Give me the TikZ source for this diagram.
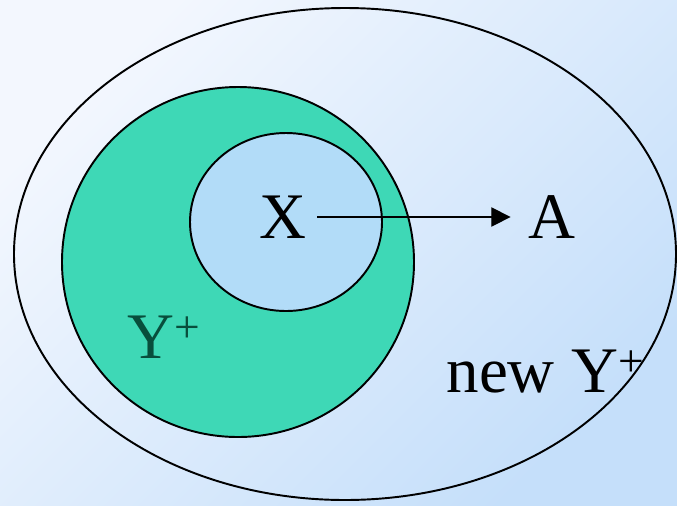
\documentclass[tikz,border=0pt]{standalone}
\usepackage{fontspec}
\setmainfont{Liberation Serif}
\usetikzlibrary{arrows.meta}
\definecolor{bgtop}{RGB}{243,247,254}
\definecolor{bgbottom}{RGB}{197,223,250}
\definecolor{tealfill}{RGB}{62,216,182}
\definecolor{bluefill}{RGB}{178,220,248}
\definecolor{tealtext}{RGB}{8,78,60}

\begin{document}
\begin{tikzpicture}[x=0.02cm,y=-0.02cm,
    lbl/.style={font=\fontsize{37}{40}\selectfont, inner sep=3pt},
    setline/.style={line width=1.1pt}]
        % Background
        \useasboundingbox (0,0) rectangle (677,505);
        \shade[top color=bgtop, bottom color=bgbottom, shading angle=45] (0,0) rectangle (677,505);
        % Define centres
        \coordinate (O) at (345,254);
        \coordinate (C) at (238,262);
        \coordinate (E) at (286,222);
        % new Y+
        \draw[setline] (O) ellipse [x radius=331, y radius=246];
        % Y+
        \filldraw[setline, fill=tealfill] (C) ellipse [x radius=176, y radius=175];
        % X
        \filldraw[setline, fill=bluefill] (E) ellipse [x radius=96, y radius=89];
        % Labels
        \node[lbl] (X) at (283,217) {X};
        \node[lbl] (A) at (552,217) {A};
        \node[lbl, tealtext, anchor=base west] (Yp) at (122,358) {Y\textsuperscript{+}};
        \node[lbl, anchor=base west] (newYp) at (441,392) {new Y\textsuperscript{+}};
        % Arrow
        \draw[line width=0.75pt, -{Triangle[length=11pt,width=11pt]}, shorten <=3pt, shorten >=7pt] (X.east) -- (A.west);
      \end{tikzpicture}
\end{document}
